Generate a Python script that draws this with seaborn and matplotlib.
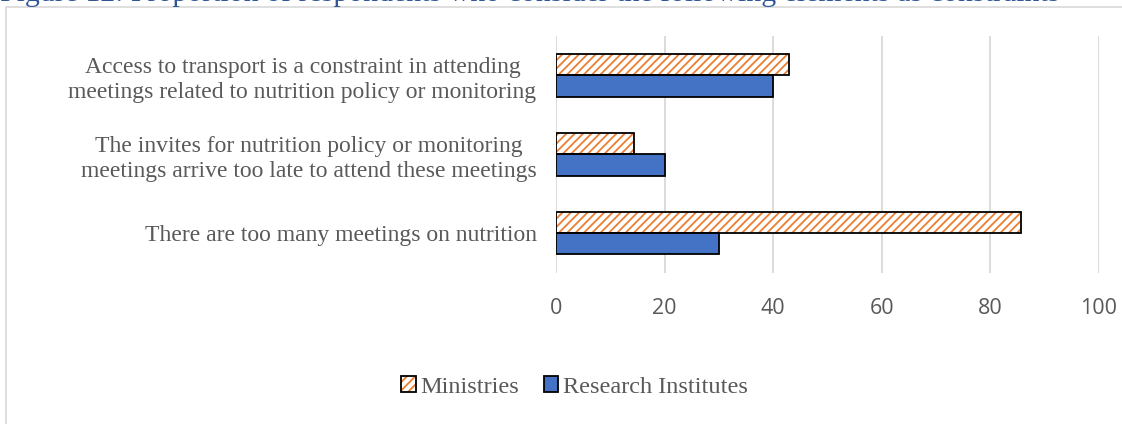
import pandas as pd
import numpy as np
import matplotlib.pyplot as plt
import seaborn as sns
from matplotlib.patches import Rectangle, Patch

categories = [
    "Access to transport is a constraint in attending\nmeetings related to nutrition policy or monitoring",
    "The invites for nutrition policy or monitoring\nmeetings arrive too late to attend these meetings",
    "There are too many meetings on nutrition",
]
groups = ["Ministries", "Research Institutes"]
ministries = [42.9, 14.3, 85.7]
research = [40.0, 20.0, 30.0]
xticks = [0, 20, 40, 60, 80, 100]

blue = "#4472C4"
orange = "#ED7D31"
text_gray = "#595959"

df = pd.DataFrame({
    "Element": categories * 2,
    "Group": [groups[0]] * 3 + [groups[1]] * 3,
    "Value": ministries + research,
})

sns.set_style("white")
plt.rcParams["hatch.linewidth"] = 1.3

fig = plt.figure(figsize=(11.22, 4.24), dpi=100)
ax = fig.add_axes([0.4955, 0.357, 0.484, 0.558])

sns.barplot(data=df, x="Value", y="Element", hue="Group", hue_order=groups,
            palette={groups[0]: "white", groups[1]: blue}, saturation=1, width=0.54,
            edgecolor="black", linewidth=1.3, ax=ax, legend=False)

# hatched ministries bars: orange hatch inside, black outline on top
for bar in ax.patches[:3]:
    bar.set_hatch("////")
    bar.set_edgecolor(orange)
    bar.set_linewidth(0)
    ax.add_patch(Rectangle(bar.get_xy(), bar.get_width(), bar.get_height(),
                           fill=False, edgecolor="black", linewidth=1.3, zorder=3))

ax.set_xlim(0, 100)
ax.set_xticks(xticks)
ax.set_xticklabels([str(t) for t in xticks], fontfamily="Open Sans", fontsize=15.5, color=text_gray)
ax.set_yticks(range(len(categories)))
ax.set_yticklabels(categories, fontfamily="Liberation Serif", fontsize=17, color=text_gray,
                   multialignment="center", linespacing=1.25)
ax.tick_params(axis="x", length=0, pad=18)
ax.tick_params(axis="y", length=0, pad=14)
ax.set_xlabel("")
ax.set_ylabel("")
ax.grid(axis="x", color="#D9D9D9", linewidth=1.3)
ax.set_axisbelow(True)
for s in ax.spines.values():
    s.set_visible(False)

mini_handle = (Patch(facecolor="white", edgecolor=orange, hatch="////", linewidth=0),
               Patch(fill=False, edgecolor="black", linewidth=1.3))
res_handle = Patch(facecolor=blue, edgecolor="black", linewidth=1.3)
leg = fig.legend([mini_handle, res_handle], groups, loc="center", bbox_to_anchor=(0.512, 0.087),
                 ncol=2, frameon=False, handlelength=0.6, handleheight=0.6, handletextpad=0.2,
                 columnspacing=1.0, prop={"family": "Liberation Serif", "size": 17.5})
for t in leg.get_texts():
    t.set_color(text_gray)

# outer chart frame and clipped caption above it
fig.patches.append(Rectangle((0.005, -0.05), 1.2, 1.034, transform=fig.transFigure,
                             fill=False, edgecolor="#D9D9D9", linewidth=1.2))
fig.text(0.0, 1.016, "Figure 12: Proportion of respondents who consider the following elements as constraints",
         fontfamily="Liberation Serif", fontsize=21.5, color="#2F5597", va="center", ha="left")

plt.savefig("out.png", dpi=100)
